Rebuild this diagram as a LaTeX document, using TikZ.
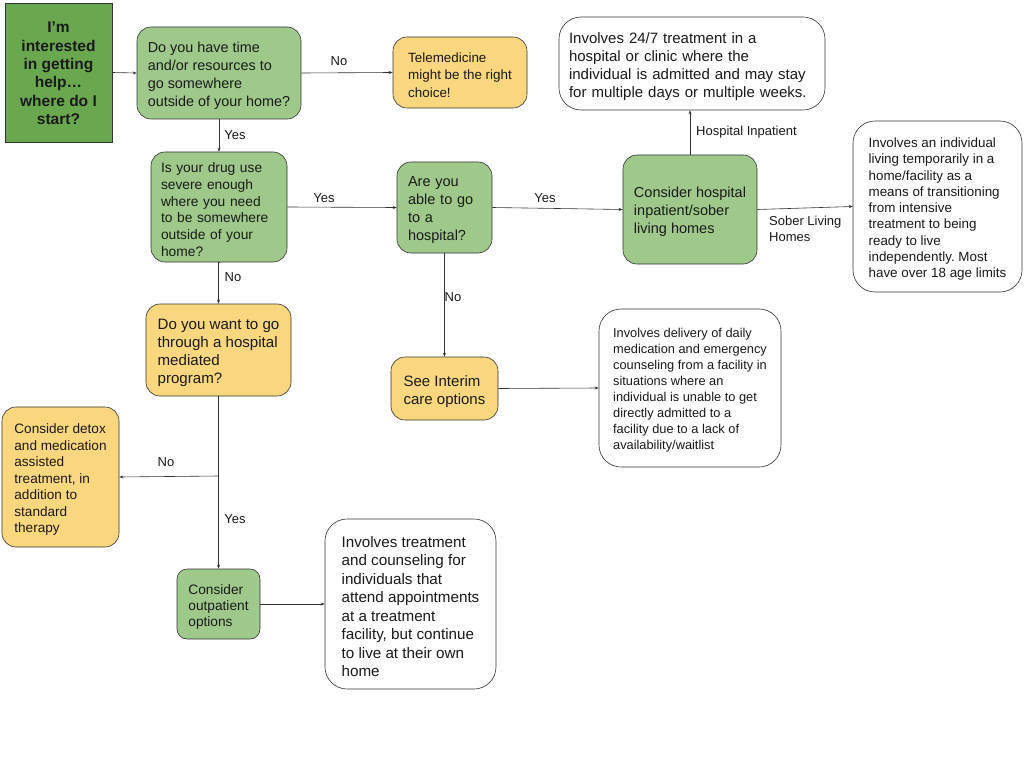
\documentclass[tikz,border=0pt]{standalone}
\usepackage{fontspec}
\setmainfont{Liberation Sans}
\usetikzlibrary{arrows.meta}
\frenchspacing
\definecolor{dkgreen}{HTML}{6AA84F}
\definecolor{ltgreen}{HTML}{9FC98A}
\definecolor{ltyellow}{HTML}{FAD77E}
\definecolor{edge}{HTML}{333333}
\definecolor{txt}{HTML}{1A1A1A}
\newcommand{\fs}[2]{\fontsize{#1}{#2}\selectfont}
\newcommand{\topgap}{\rule{0pt}{\dimexpr0.75em+5pt\relax}}
\newcommand{\smallgap}{\rule{0pt}{\dimexpr0.75em+1pt\relax}}
\tikzset{
  box/.style={draw=edge, line width=0.6pt, rounded corners=14pt, inner xsep=4pt, inner ysep=0pt, align=left, text=txt},
  gbox/.style={box, fill=ltgreen},
  ybox/.style={box, fill=ltyellow},
  wbox/.style={box, fill=white, rounded corners=22pt},
  arr/.style={draw=edge, line width=0.6pt, -{Stealth[length=4pt,width=3pt]}},
  lbl/.style={inner sep=0pt, text=txt, font=\fs{13}{16}},
}
\begin{document}
\begin{tikzpicture}[x=1pt,y=-1pt]
\useasboundingbox (0,0) rectangle (1024,762);
\fill[white] (0,0) rectangle (1024,762);
% nodes
\node[draw=edge, line width=0.6pt, fill=dkgreen, minimum width=107pt, minimum height=139pt, inner sep=0pt, align=center, font=\bfseries\fs{15.5}{18.4}, text=txt] (start) at (58.5,72.5) {\smallgap I’m\\interested\\in getting\\help…\\where do I\\start?};
\node[gbox, minimum width=164pt, minimum height=92pt, font=\fs{14.4}{18}] (q1) at (219,73) {\topgap Do you have time\\and/or resources to\\go somewhere\\outside of your home?};
\node[ybox, minimum width=134pt, minimum height=71pt, font=\fs{13.4}{17.5}] (tele) at (460,72.5) {\topgap Telemedicine\\might be the right\\choice!};
\node[wbox, minimum width=266pt, minimum height=93pt, inner xsep=10pt, text width=246pt, font=\fs{15}{18}] (inp) at (692,63.5) {\topgap Involves 24/7 treatment in a\\hospital or clinic where the\\individual is admitted and may stay\\for multiple days or multiple weeks.};
\node[gbox, minimum width=136pt, minimum height=110pt, inner xsep=10pt, text width=116pt, font=\fs{13.8}{16.7}] (q2) at (219,207) {\topgap Is your drug use\\severe enough\\where you need\\to be somewhere\\outside of your\\home?};
\node[gbox, minimum width=95pt, minimum height=91pt, inner xsep=11pt, text width=73pt, font=\fs{14.5}{18}] (able) at (444.5,207.5) {\topgap Are you\\able to go\\to a\\hospital?};
\node[gbox, minimum width=134pt, minimum height=109pt, font=\fs{14.5}{18}] (hosp) at (690,209.5) {\topgap Consider hospital\\inpatient/sober\\living homes};
\node[wbox, minimum width=169pt, minimum height=171pt, font=\fs{13.4}{16.25}] (sober) at (937.5,206.5) {\topgap Involves an individual\\living temporarily in a\\home/facility as a\\means of transitioning\\from intensive\\treatment to being\\ready to live\\independently. Most\\have over 18 age limits};
\node[ybox, minimum width=145pt, minimum height=92pt, font=\fs{15.1}{18}] (q3) at (218.5,350) {\topgap Do you want to go\\through a hospital\\mediated\\program?};
\node[ybox, minimum width=107pt, minimum height=63pt, font=\fs{15}{18}] (interim) at (444.5,388.5) {\topgap See Interim\\care options};
\node[wbox, minimum width=182pt, minimum height=158pt, font=\fs{12.8}{16}] (intd) at (690,388) {\topgap Involves delivery of daily\\medication and emergency\\counseling from a facility in\\situations where an\\individual is unable to get\\directly admitted to a\\facility due to a lack of\\availability/waitlist};
\node[ybox, minimum width=117pt, minimum height=140pt, font=\fs{13.6}{16.5}] (detox) at (60.5,477) {\topgap Consider detox\\and medication\\assisted\\treatment, in\\addition to\\standard\\therapy};
\node[gbox, minimum width=83pt, minimum height=70pt, rounded corners=10pt, font=\fs{13.7}{16}] (outp) at (218.5,604) {\topgap Consider\\outpatient\\options};
\node[wbox, minimum width=171pt, minimum height=170pt, font=\fs{15.2}{18.5}] (outd) at (410.5,604) {\topgap Involves treatment\\and counseling for\\individuals that\\attend appointments\\at a treatment\\facility, but continue\\to live at their own\\home};
% connectors
\draw[arr] (start.east) -- (q1.west);
\draw[arr] (q1.east) -- (tele.west);
\draw[arr] (q1.south) -- (q2.north);
\draw[arr] (q2.east) -- (able.west);
\draw[arr] (able.east) -- (hosp.west);
\draw[arr] (hosp.north) -- (hosp.north |- inp.south);
\draw[arr] (hosp.east) -- (sober.west);
\draw[arr] (q2.south) -- (q3.north |- q2.south) -- (q3.north);
\draw[arr] (able.south) -- (interim.north);
\draw[arr] (interim.east) -- (intd.west);
\draw[arr] (q3.south) -- (outp.north);
\coordinate (br) at (218.5,476);
\draw[arr] (br) -- (detox.east);
\draw[arr] (outp.east) -- (outd.west);
% labels
\node[lbl] (l1) at (339,61) {No};
\node[lbl] (l2) at (235,135) {Yes};
\node[lbl] (l3) at (324,198) {Yes};
\node[lbl] (l4) at (545,198) {Yes};
\node[lbl, anchor=west] (l5) at (696,132) {Hospital Inpatient};
\node[lbl, anchor=west, align=left, font=\fs{13}{16}] (l6) at (769,229) {Sober Living\\Homes};
\node[lbl] (l7) at (233,277) {No};
\node[lbl] (l8) at (453,297) {No};
\node[lbl] (l9) at (166,462) {No};
\node[lbl] (l10) at (235,519) {Yes};
\end{tikzpicture}
\end{document}
